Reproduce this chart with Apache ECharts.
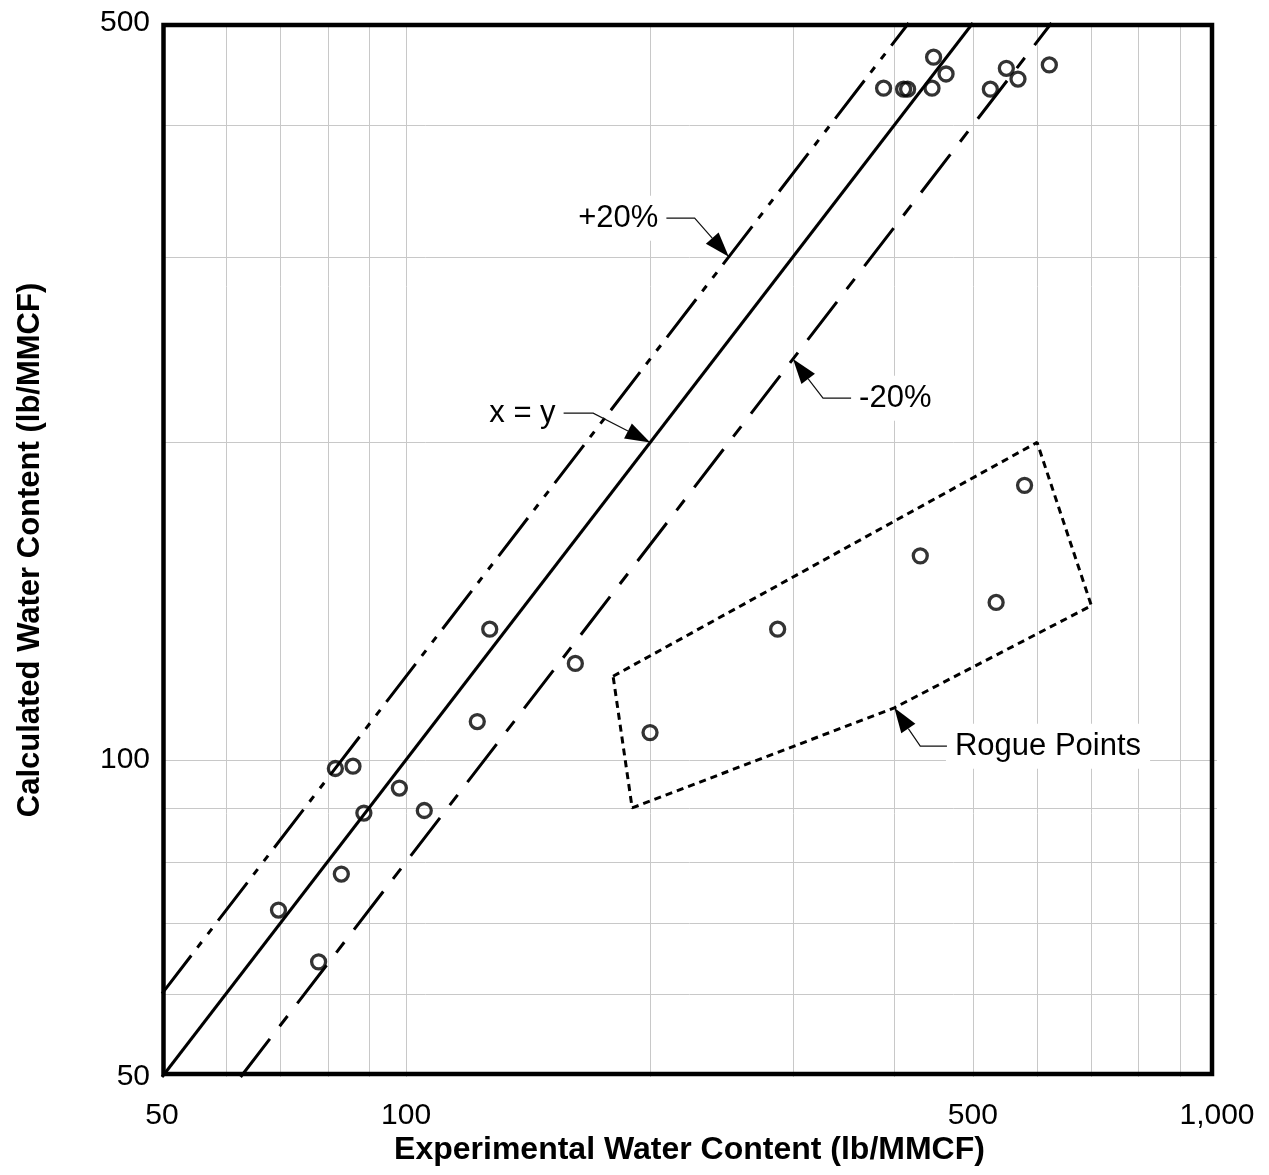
<!DOCTYPE html>
<html>
<head>
<meta charset="utf-8">
<script src="https://cdn.jsdelivr.net/npm/echarts/dist/echarts.min.js"></script>
<style>html,body{margin:0;padding:0;background:#fff}#c{width:1269px;height:1175px}</style>
</head>
<body>
<div id="c"></div>
<script>
// ---------- data ----------
const X_MIN = 50, X_MAX = 1000, Y_MIN = 50, Y_MAX = 500;
const expWater  = [69.6, 78.0, 81.8, 86.0, 83.2, 88.7, 98.1, 105.3, 122.4, 126.8, 161.7, 199.9, 287.2, 430.6, 534.1, 579.0,
                   388.0, 410.7, 415.4, 445.2, 447.2, 463.3, 525.4, 549.8, 568.3, 621.2];
const calcWater = [72.0, 64.3, 98.1, 98.6, 77.9, 89.0, 94.0, 89.5, 108.7, 133.0, 123.4, 106.1, 133.0, 156.1, 141.0, 182.1,
                   433.6, 432.7, 432.7, 433.6, 464.0, 447.3, 432.7, 452.9, 442.4, 456.2];

const xyLineX = [50, 500],     xyLineY = [50, 500];
const plus20X = [50, 416.7],   plus20Y = [60, 500];
const minus20X = [62.5, 625],  minus20Y = [50, 500];

const rogueBoxX = [180, 600, 700, 400, 190, 180];
const rogueBoxY = [120, 200, 140, 112, 90, 120];

const annoLabels = ['+20%', 'x = y', '-20%', 'Rogue Points'];
const annoStartX = [209.4, 156.4, 353.8, 464.5];
const annoStartY = [326.4, 213.2, 220.3, 103.0];
const annoElbowX = [226.9, 170.1, 326.7, 430.6];
const annoElbowY = [326.4, 213.2, 220.3, 103.0];
const annoTipX   = [250, 200, 300, 400];
const annoTipY   = [300, 200, 240, 112];
const annoSide   = ['right', 'right', 'left', 'left'];

const gridXVals = [60, 70, 80, 90, 100, 200, 300, 400, 500, 600, 700, 800, 900];
const gridYVals = [60, 70, 80, 90, 100, 200, 300, 400];
const xTickVals = [50, 100, 500, 1000];
const xTickLabels = ['50', '100', '500', '1,000'];
const yTickVals = [50, 100, 500];
const yTickLabels = ['50', '100', '500'];

// ---------- chart ----------
const FONT = '"Liberation Sans", Arial, Helvetica, sans-serif';
const chart = echarts.init(document.getElementById('c'), null, {renderer: 'canvas'});

function pairs(xs, ys) { return xs.map((x, i) => [x, ys[i]]); }

const option = {
  backgroundColor: '#ffffff',
  animation: false,
  grid: {left: 162, top: 23, width: 1055, height: 1054, show: false},
  xAxis: {
    type: 'log', logBase: 10, min: X_MIN, max: X_MAX,
    axisLine: {show: false}, axisTick: {show: false}, axisLabel: {show: false},
    splitLine: {show: false}, minorSplitLine: {show: false},
    name: 'Experimental Water Content (lb/MMCF)', nameLocation: 'middle', nameGap: 57,
    nameTextStyle: {fontSize: 32, fontWeight: 'bold', color: '#000', fontFamily: FONT}
  },
  yAxis: {
    type: 'log', logBase: 10, min: Y_MIN, max: Y_MAX,
    axisLine: {show: false}, axisTick: {show: false}, axisLabel: {show: false},
    splitLine: {show: false}, minorSplitLine: {show: false},
    name: 'Calculated Water Content (lb/MMCF)', nameLocation: 'middle', nameGap: 116, nameRotate: 90,
    nameTextStyle: {fontSize: 31, fontWeight: 'bold', color: '#000', fontFamily: FONT}
  },
  series: [
    // vertical grid lines
    {
      type: 'custom', z: 0, silent: true, clip: false,
      dimensions: ['x', 'y'], encode: {x: 0, y: 1},
      data: gridXVals.map(v => [v, Y_MIN]),
      renderItem: function (params, api) {
        const a = api.coord([api.value(0), Y_MIN]);
        const b = api.coord([api.value(0), Y_MAX]);
        const x = Math.round(a[0]) + 0.5;
        return {type: 'line', shape: {x1: x, y1: a[1], x2: x, y2: b[1]},
                style: {stroke: '#c8c8c8', lineWidth: 1}};
      }
    },
    // horizontal grid lines
    {
      type: 'custom', z: 0, silent: true, clip: false,
      dimensions: ['x', 'y'], encode: {x: 0, y: 1},
      data: gridYVals.map(v => [X_MIN, v]),
      renderItem: function (params, api) {
        const a = api.coord([X_MIN, api.value(1)]);
        const b = api.coord([X_MAX, api.value(1)]);
        const y = Math.round(a[1]) + 0.5;
        return {type: 'line', shape: {x1: a[0], y1: y, x2: b[0], y2: y},
                style: {stroke: '#c8c8c8', lineWidth: 1}};
      }
    },
    // x = y
    {type: 'line', z: 2, data: pairs(xyLineX, xyLineY), showSymbol: false, silent: true,
     lineStyle: {color: '#000', width: 3, type: 'solid'}},
    // +20%
    {type: 'line', z: 2, data: pairs(plus20X, plus20Y), showSymbol: false, silent: true,
     lineStyle: {color: '#000', width: 3, type: [48, 10, 7, 10, 7, 10], cap: 'butt'}},
    // -20%
    {type: 'line', z: 2, data: pairs(minus20X, minus20Y), showSymbol: false, silent: true,
     lineStyle: {color: '#000', width: 3, type: [48, 16, 13, 16], cap: 'butt'}},
    // rogue box
    {type: 'line', z: 2, data: pairs(rogueBoxX, rogueBoxY), showSymbol: false, silent: true,
     lineStyle: {color: '#000', width: 3, type: [7, 5], cap: 'butt'}},
    // points
    {type: 'scatter', z: 3, data: pairs(expWater, calcWater), symbol: 'circle', symbolSize: 14,
     itemStyle: {color: 'rgba(0,0,0,0)', borderColor: '#000', borderWidth: 3.3}},
    // annotations
    {
      type: 'custom', z: 4, silent: true, clip: false,
      dimensions: ['sx', 'sy', 'ex', 'ey', 'tx', 'ty'],
      encode: {x: [0, 2, 4], y: [1, 3, 5]},
      data: annoLabels.map((_, i) => [annoStartX[i], annoStartY[i], annoElbowX[i], annoElbowY[i], annoTipX[i], annoTipY[i]]),
      renderItem: function (params, api) {
        const i = params.dataIndex;
        const s = api.coord([api.value(0), api.value(1)]);
        const e = api.coord([api.value(2), api.value(3)]);
        const t = api.coord([api.value(4), api.value(5)]);
        const dx = t[0] - e[0], dy = t[1] - e[1], L = Math.hypot(dx, dy);
        const ux = dx / L, uy = dy / L;
        const AL = 25, AW = 8.5;
        const bx = t[0] - ux * AL, by = t[1] - uy * AL;
        const p1 = [bx - uy * AW, by + ux * AW], p2 = [bx + uy * AW, by - ux * AW];
        const side = annoSide[i];
        const tx = side === 'right' ? s[0] + 1 : s[0] - 1;
        return {
          type: 'group',
          children: [
            {type: 'text', style: {text: annoLabels[i], x: tx, y: s[1], align: side, verticalAlign: 'middle',
              fontSize: 31, fontFamily: FONT, fill: '#000', backgroundColor: '#fff', padding: [7, 9]}},
            {type: 'polyline', shape: {points: [s, e, [bx, by]]}, style: {stroke: '#111', lineWidth: 1.2, fill: null}},
            {type: 'polygon', shape: {points: [t, p1, p2]}, style: {fill: '#000', stroke: null}}
          ]
        };
      }
    },
    // x tick labels
    {
      type: 'custom', z: 4, silent: true, clip: false,
      dimensions: ['x', 'y'], encode: {x: 0, y: 1},
      data: xTickVals.map(v => [v, Y_MIN]),
      renderItem: function (params, api) {
        const p = api.coord([api.value(0), Y_MIN]);
        return {type: 'text', style: {text: xTickLabels[params.dataIndex], x: p[0], y: p[1] + 39,
          align: 'center', verticalAlign: 'middle', fontSize: 30, fontFamily: FONT, fill: '#000'}};
      }
    },
    // y tick labels
    {
      type: 'custom', z: 4, silent: true, clip: false,
      dimensions: ['x', 'y'], encode: {x: 0, y: 1},
      data: yTickVals.map(v => [X_MIN, v]),
      renderItem: function (params, api) {
        const p = api.coord([X_MIN, api.value(1)]);
        return {type: 'text', style: {text: yTickLabels[params.dataIndex], x: p[0] - 12, y: p[1],
          align: 'right', verticalAlign: 'middle', fontSize: 30, fontFamily: FONT, fill: '#000'}};
      }
    },
    // plot frame
    {
      type: 'custom', z: 5, silent: true, clip: false,
      dimensions: ['x', 'y'], encode: {x: 0, y: 1},
      data: [[X_MIN, Y_MIN]],
      renderItem: function (params, api) {
        const a = api.coord([X_MIN, Y_MAX]);
        const b = api.coord([X_MAX, Y_MIN]);
        return {type: 'rect', shape: {x: a[0] + 1.5, y: a[1] + 2, width: b[0] - a[0] - 6.5, height: b[1] - a[1] - 5},
          style: {fill: null, stroke: '#000', lineWidth: 4.5}};
      }
    }
  ]
};
chart.setOption(option);
</script>
</body>
</html>
